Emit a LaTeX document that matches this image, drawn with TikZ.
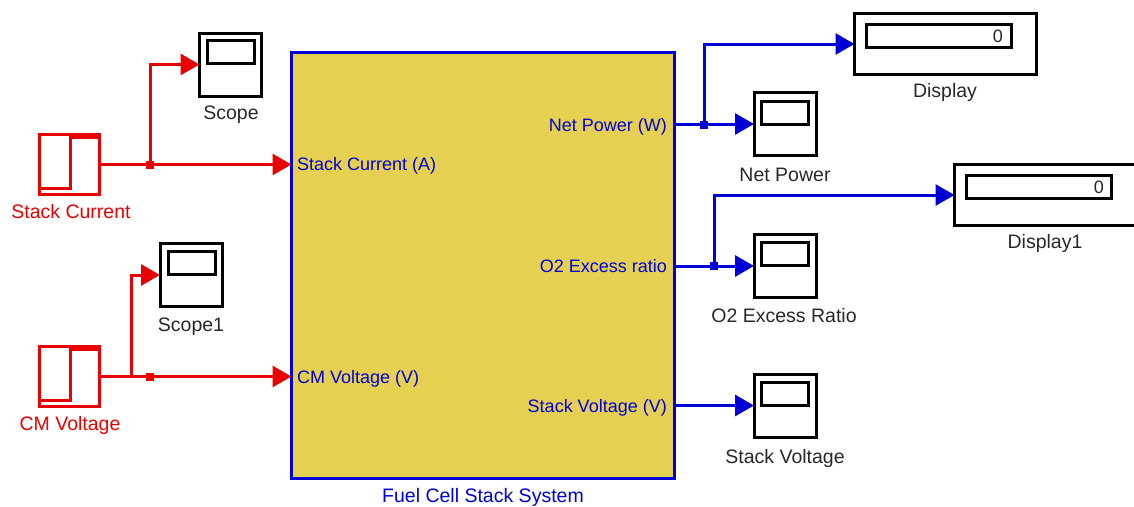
\documentclass[tikz,border=0pt]{standalone}
\usepackage{xcolor}
\usepackage{fontspec}
\setmainfont{Liberation Sans}
\usepackage{tikz}
\usetikzlibrary{arrows.meta}

\definecolor{wirered}{RGB}{232,0,0}
\definecolor{wireblue}{RGB}{0,0,214}
\definecolor{stackfill}{RGB}{230,208,82}
\definecolor{labelgrey}{RGB}{40,40,40}

\begin{document}
\begin{tikzpicture}[x=1pt, y=-1pt,
  blackbox/.style={rectangle, draw=black, line width=3pt, fill=white, inner sep=0pt, outer sep=0pt},
  scopeblock/.style={blackbox, minimum width=62pt, minimum height=63pt},
  scopescreen/.style={blackbox, minimum width=47pt, minimum height=23pt},
  displayblock/.style={blackbox, minimum width=182pt, minimum height=61pt},
  displayscreen/.style={blackbox, minimum width=145pt, minimum height=23pt},
  stepblock/.style={rectangle, draw=wirered, line width=3pt, fill=white, inner sep=0pt, outer sep=0pt, minimum width=60pt, minimum height=60pt},
  blocklabel/.style={inner sep=0pt, text=labelgrey, font=\fontsize{19.5}{22}\selectfont},
  redlabel/.style={blocklabel, text=wirered},
  bluelabel/.style={blocklabel, text=wireblue},
  portlabel/.style={bluelabel, font=\fontsize{18}{20}\selectfont},
  zerolabel/.style={blocklabel, font=\fontsize{18}{20}\selectfont, anchor=east},
  stepline/.style={draw=wirered, line width=3pt},
  redwire/.style={draw=wirered, line width=3pt, -{Triangle[length=19pt, width=21pt]}},
  bluewire/.style={draw=wireblue, line width=3pt, -{Triangle[length=19pt, width=21pt]}},
  reddot/.style={rectangle, fill=wirered, inner sep=0pt, minimum size=8pt},
  bluedot/.style={rectangle, fill=wireblue, inner sep=0pt, minimum size=8pt}]
\useasboundingbox (0,0) rectangle (1134,506);

% sources
\node[stepblock] at (69.5,164.5) (stackcurrent) {};
\node[stepblock] at (69.5,376.5) (cmvoltage) {};
\draw[stepline] (41,188) -- (70,188) -- (70,137) -- (99,137);
\draw[stepline] (41,400) -- (70,400) -- (70,349) -- (99,349);
\node[redlabel] at (71,212) (stackcurrentlabel) {Stack Current};
\node[redlabel] at (70,425) (cmvoltagelabel) {CM Voltage};

% main block
\node[rectangle, draw=wireblue, line width=3pt, fill=stackfill, inner sep=0pt, outer sep=0pt, minimum width=383pt, minimum height=426pt] at (483,265.5) (fuelcell) {};
\node[bluelabel] at (483,497) (fuelcelllabel) {Fuel Cell Stack System};
\node[portlabel, anchor=west] at (297,166) (stackcurrentin) {Stack Current (A)};
\node[portlabel, anchor=west] at (297,378.5) (cmvoltagein) {CM Voltage (V)};
\node[portlabel, anchor=east] at (667,126.5) (netpowerout) {Net Power (W)};
\node[portlabel, anchor=east] at (667,266.5) (o2out) {O2 Excess ratio};
\node[portlabel, anchor=east] at (667,407.5) (stackvoltageout) {Stack Voltage (V)};

% scopes
\node[scopeblock] at (230.5,64.5) (scope) {};
\node[scopescreen] at (231,52) (scopescr) {};
\node[blocklabel] at (231,115) (scopelabel) {Scope};
\node[scopeblock] at (191,275) (scopeone) {};
\node[scopescreen] at (191.5,263) (scopeonescr) {};
\node[blocklabel] at (191,327) (scopeonelabel) {Scope1};
\node[scopeblock] at (785,124) (netpower) {};
\node[scopescreen] at (785,113) (netpowerscr) {};
\node[blocklabel] at (785,175) (netpowerlabel) {Net Power};
\node[scopeblock] at (785,266) (o2ratio) {};
\node[scopescreen] at (785,254) (o2ratioscr) {};
\node[blocklabel] at (784,316) (o2ratiolabel) {O2 Excess Ratio};
\node[scopeblock] at (785,405.5) (stackvoltage) {};
\node[scopescreen] at (785,394) (stackvoltagescr) {};
\node[blocklabel] at (785,458) (stackvoltagelabel) {Stack Voltage};

% displays
\node[displayblock] at (945.5,44) (display) {};
\node[displayscreen] at (938.5,35.5) (displayscr) {};
\node[zerolabel] at (1003,36) (displayzero) {0};
\node[blocklabel] at (945,92) (displaylabel) {Display};
\node[displayblock] at (1045.5,195) (displayone) {};
\node[displayscreen] at (1039,186.5) (displayonescr) {};
\node[zerolabel] at (1104,187) (displayonezero) {0};
\node[blocklabel] at (1045,243) (displayonelabel) {Display1};

% junctions
\coordinate (stackjoin) at (150,164.5);
\coordinate (cmjoin) at (131,376.5);
\coordinate (netjoin) at (704,124.5);
\coordinate (o2join) at (714,266);

% wires
\draw[redwire] (stackcurrent.east) -- (fuelcell.west |- stackcurrent.east);
\draw[redwire] (stackjoin) |- (scope.west);
\draw[redwire] (cmvoltage.east) -- (fuelcell.west |- cmvoltage.east);
\draw[redwire] (cmjoin) |- (scopeone.west);
\draw[bluewire] (fuelcell.east |- netpower.west) -- (netpower.west);
\draw[bluewire] (netjoin) |- (display.west);
\draw[bluewire] (fuelcell.east |- o2ratio.west) -- (o2ratio.west);
\draw[bluewire] (o2join) |- (displayone.west);
\draw[bluewire] (fuelcell.east |- stackvoltage.west) -- (stackvoltage.west);
\node[reddot] at (stackjoin) (stackdot) {};
\node[reddot] at (150,376.5) (cmdot) {};
\node[bluedot] at (netjoin) (netdot) {};
\node[bluedot] at (o2join) (o2dot) {};

\end{tikzpicture}
\end{document}
